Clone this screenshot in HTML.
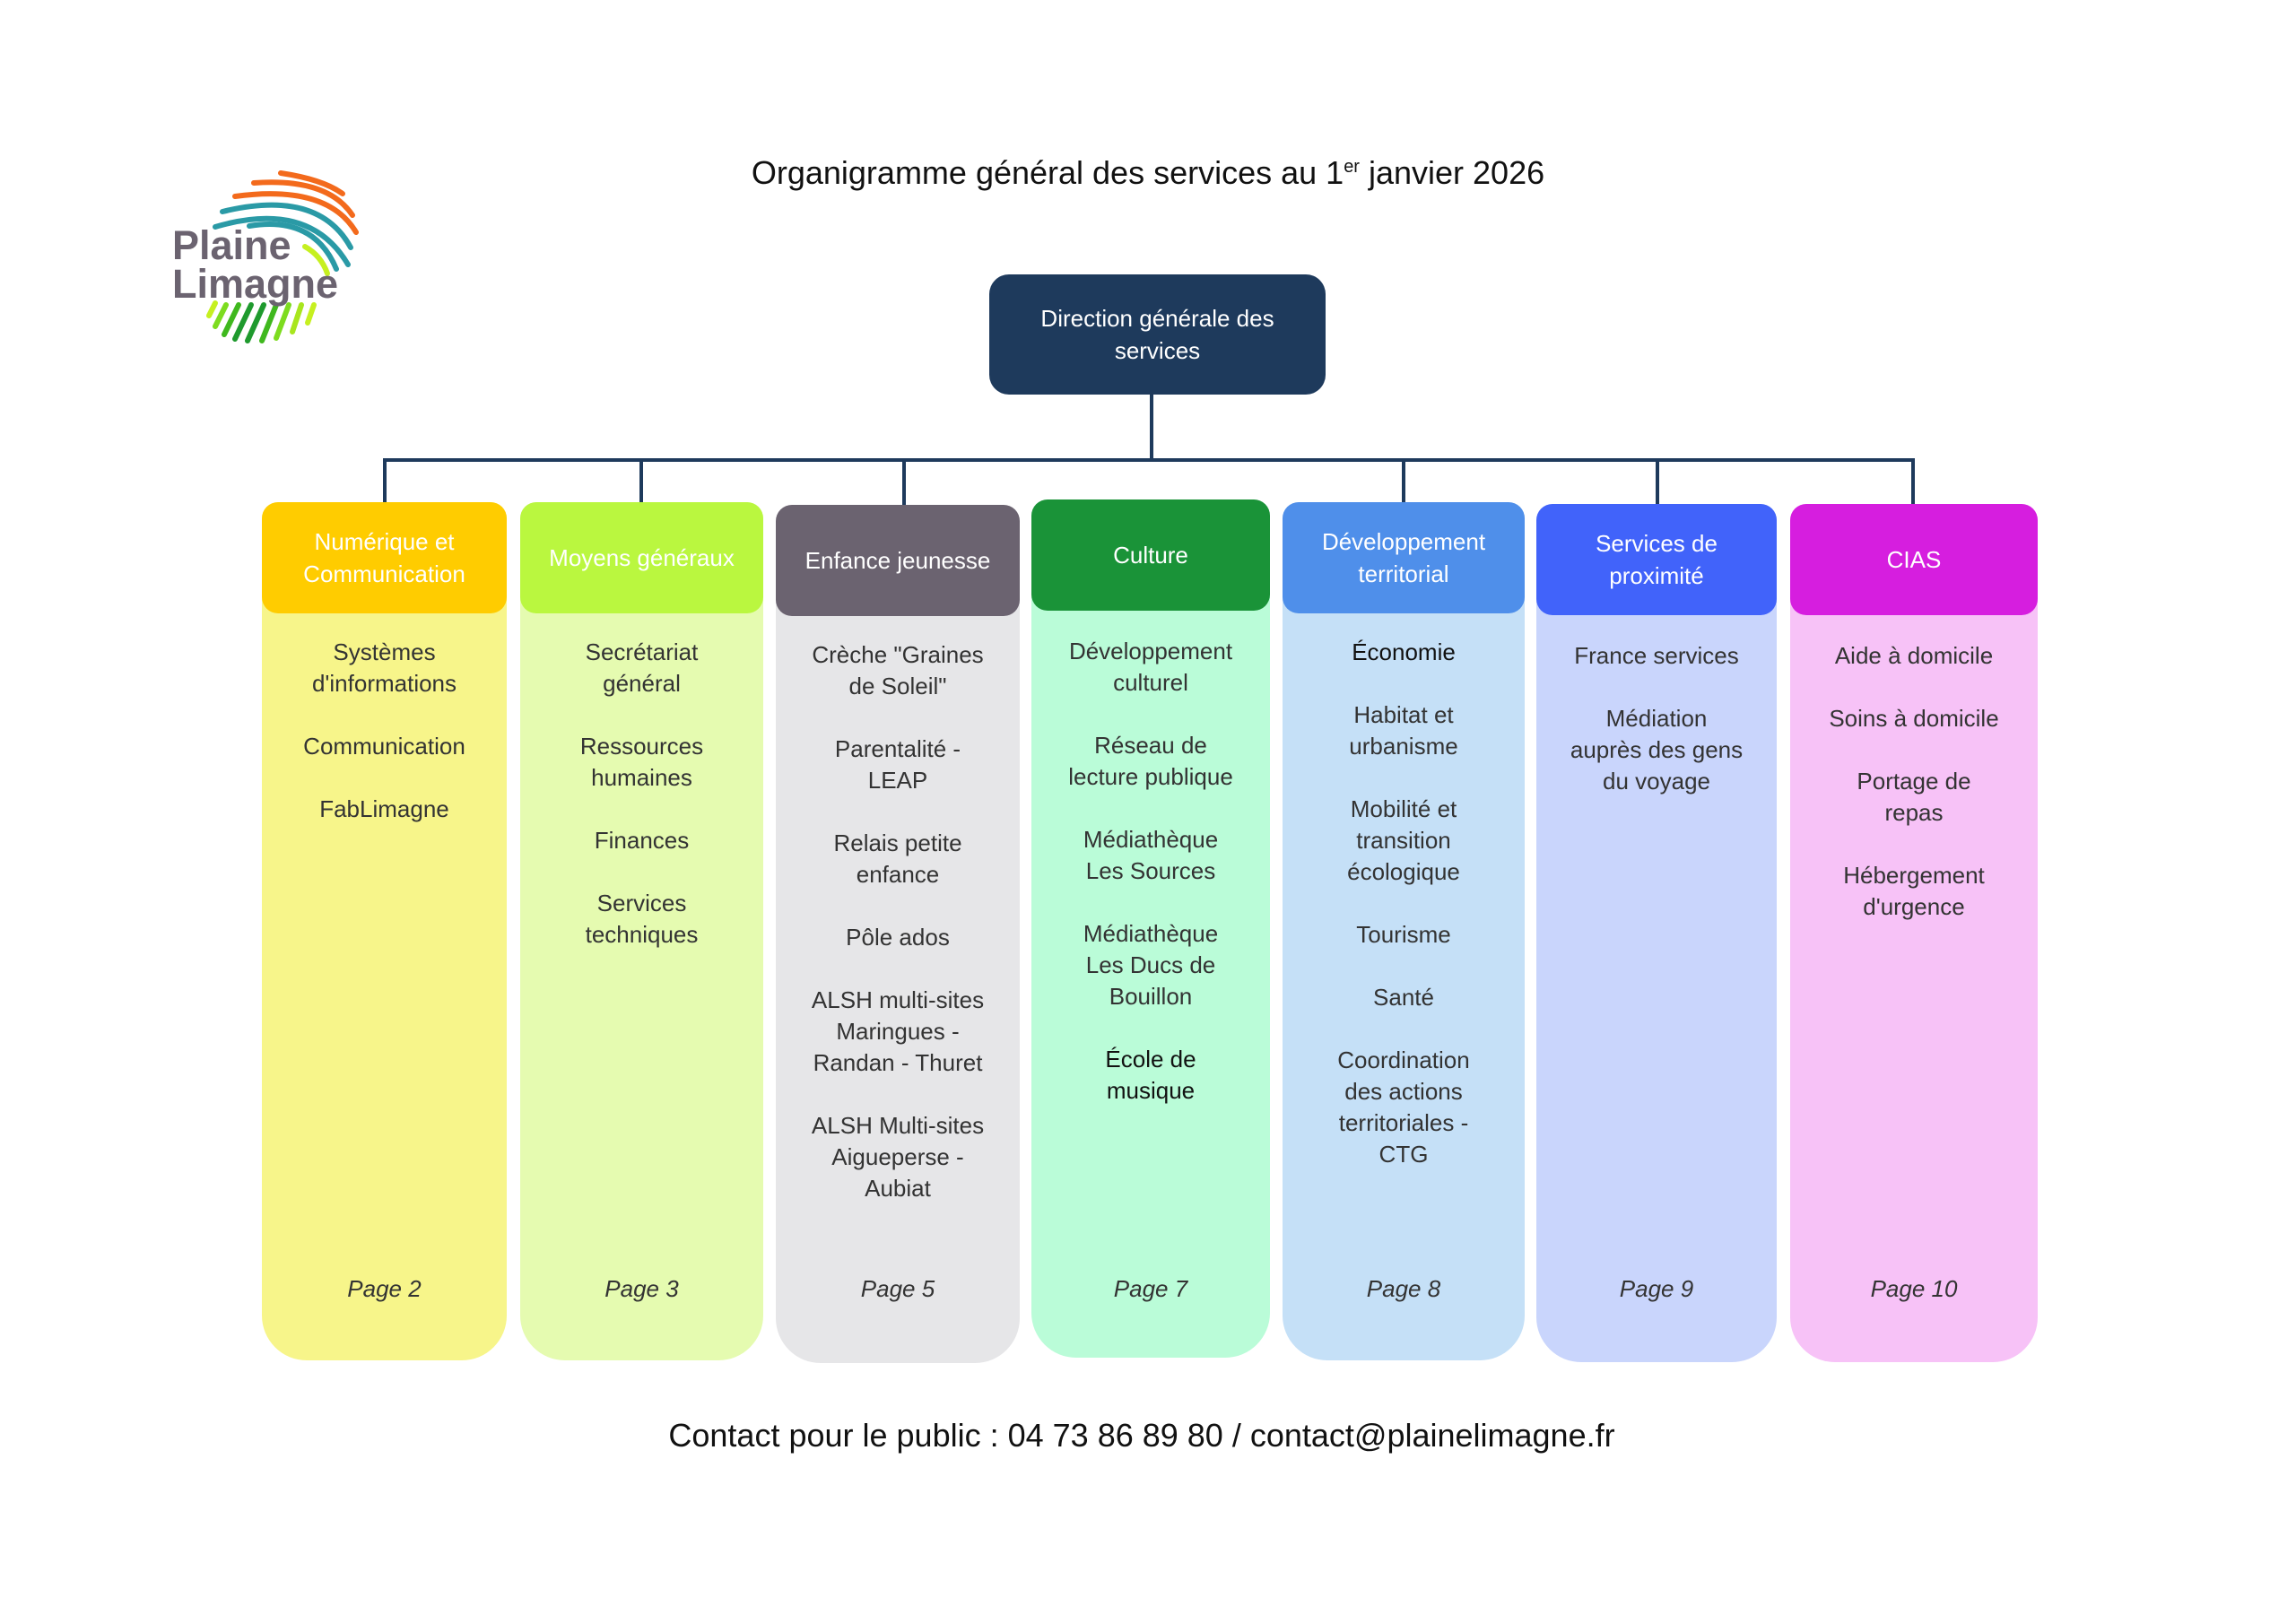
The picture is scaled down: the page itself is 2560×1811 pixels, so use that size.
<!DOCTYPE html>
<html><head><meta charset="utf-8"><style>
body{margin:0;width:2560px;height:1811px;background:#fff;position:relative;overflow:hidden;font-family:"Liberation Sans","DejaVu Sans",sans-serif;}
.abs{position:absolute}
.title{left:0;width:2560px;top:172px;text-align:center;font-size:36px;color:#111;}
.title sup{font-size:20px;}
.dg{left:1103px;top:306px;width:375px;height:134px;background:#1e3a5c;border-radius:22px;color:#fff;font-size:26px;line-height:36px;display:flex;align-items:center;justify-content:center;text-align:center;}
.col{top:560px;height:957px;border-radius:18px 18px 50px 50px;}
.hd{position:absolute;left:0;right:0;top:0;height:124px;border-radius:18px;color:#fff;font-size:26px;line-height:36px;display:flex;align-items:center;justify-content:center;text-align:center;}
.items{position:absolute;left:8px;right:8px;top:150px;text-align:center;color:#333;font-size:26px;line-height:35px;}
.items div{margin-bottom:35px}
.pg{position:absolute;left:0;right:0;top:862px;text-align:center;font-style:italic;color:#333;font-size:26px;}
.ln{background:#1e3a5c}
.foot{left:0;width:2546px;top:1580px;text-align:center;font-size:36px;color:#111;}
</style></head><body>
<svg class="abs" style="left:0;top:0" width="500" height="450">
<g fill="none" stroke-linecap="round" stroke-width="6">
<path d="M313,193 Q360,200 382,216" stroke="#f36a1c"/>
<path d="M283,204 Q365,198 393,240" stroke="#f36a1c"/>
<path d="M262,219 Q365,205 397,259" stroke="#f36a1c"/>
<path d="M248,236 Q355,210 391,276" stroke="#2a9aa6"/>
<path d="M240,253 Q345,222 388,295" stroke="#2a9aa6"/>
<path d="M278,252 Q350,240 375,300" stroke="#2a9aa6"/>
<path d="M340,275 Q358,285 365,305" stroke="#c6f020"/>
<path d="M240,338 L233,352" stroke="#c6f020"/>
<path d="M252,340 L240,364" stroke="#7ddc1f"/>
<path d="M266,340 L250,373" stroke="#3fb81e"/>
<path d="M280,340 L262,378" stroke="#1f9a2e"/>
<path d="M294,340 L276,380" stroke="#1f9a2e"/>
<path d="M308,340 L292,380" stroke="#3fb81e"/>
<path d="M322,340 L308,377" stroke="#7ddc1f"/>
<path d="M336,340 L326,370" stroke="#a8e61e"/>
<path d="M350,340 L343,360" stroke="#c6f020"/>
</g>
<text x="192" y="289" font-family="Liberation Sans,sans-serif" font-weight="bold" font-size="45" fill="#6b6370">Plaine</text>
<text x="192" y="332" font-family="Liberation Sans,sans-serif" font-weight="bold" font-size="45" fill="#6b6370">Limagne</text>
</svg>
<div class="abs title">Organigramme général des services au 1<sup>er</sup> janvier 2026</div>
<div class="abs dg">Direction générale des<br>services</div>
<div class="abs ln" style="left:1282px;top:440px;width:4px;height:75px"></div>
<div class="abs ln" style="left:427px;top:511px;width:1708px;height:4px"></div>
<div class="abs ln" style="left:427px;top:511px;width:4px;height:50px"></div>
<div class="abs ln" style="left:713px;top:511px;width:4px;height:50px"></div>
<div class="abs ln" style="left:1006px;top:511px;width:4px;height:52px"></div>
<div class="abs ln" style="left:1563px;top:511px;width:4px;height:50px"></div>
<div class="abs ln" style="left:1846px;top:511px;width:4px;height:52px"></div>
<div class="abs ln" style="left:2131px;top:511px;width:4px;height:52px"></div>

<div class="abs col" style="left:292px;width:273px;background:#f7f58a">
<div class="hd" style="background:#ffcc00">Numérique et<br>Communication</div>
<div class="items"><div>Systèmes<br>d'informations</div><div>Communication</div><div>FabLimagne</div></div>
<div class="pg">Page 2</div></div>

<div class="abs col" style="left:580px;width:271px;background:#e5fbb0">
<div class="hd" style="background:#baf73f">Moyens généraux</div>
<div class="items"><div>Secrétariat<br>général</div><div>Ressources<br>humaines</div><div>Finances</div><div>Services<br>techniques</div></div>
<div class="pg">Page 3</div></div>

<div class="abs col" style="left:865px;width:272px;top:563px;background:#e6e6e8">
<div class="hd" style="background:#6b6370">Enfance jeunesse</div>
<div class="items" style="top:150px"><div>Crèche "Graines<br>de Soleil"</div><div>Parentalité -<br>LEAP</div><div>Relais petite<br>enfance</div><div>Pôle ados</div><div>ALSH multi-sites<br>Maringues -<br>Randan - Thuret</div><div>ALSH Multi-sites<br>Aigueperse -<br>Aubiat</div></div>
<div class="pg" style="top:859px">Page 5</div></div>

<div class="abs col" style="left:1150px;width:266px;top:557px;background:#bafcd8">
<div class="hd" style="background:#1a9338">Culture</div>
<div class="items" style="top:152px"><div>Développement<br>culturel</div><div>Réseau de<br>lecture publique</div><div>Médiathèque<br>Les Sources</div><div>Médiathèque<br>Les Ducs de<br>Bouillon</div><div style="color:#111">École de<br>musique</div></div>
<div class="pg" style="top:865px">Page 7</div></div>

<div class="abs col" style="left:1430px;width:270px;background:#c5e0f7">
<div class="hd" style="background:#4f8fea">Développement<br>territorial</div>
<div class="items"><div style="color:#111">Économie</div><div>Habitat et<br>urbanisme</div><div>Mobilité et<br>transition<br>écologique</div><div>Tourisme</div><div>Santé</div><div>Coordination<br>des actions<br>territoriales -<br>CTG</div></div>
<div class="pg">Page 8</div></div>

<div class="abs col" style="left:1713px;width:268px;top:562px;background:#c9d5fc">
<div class="hd" style="background:#4163fa">Services de<br>proximité</div>
<div class="items" style="top:152px"><div>France services</div><div>Médiation<br>auprès des gens<br>du voyage</div></div>
<div class="pg" style="top:860px">Page 9</div></div>

<div class="abs col" style="left:1996px;width:276px;top:562px;background:#f7c2f7">
<div class="hd" style="background:#d61edf">CIAS</div>
<div class="items" style="top:152px"><div>Aide à domicile</div><div>Soins à domicile</div><div>Portage de<br>repas</div><div>Hébergement<br>d'urgence</div></div>
<div class="pg" style="top:860px">Page 10</div></div>

<div class="abs foot">Contact pour le public : 04 73 86 89 80 / contact@plainelimagne.fr</div>
</body></html>
